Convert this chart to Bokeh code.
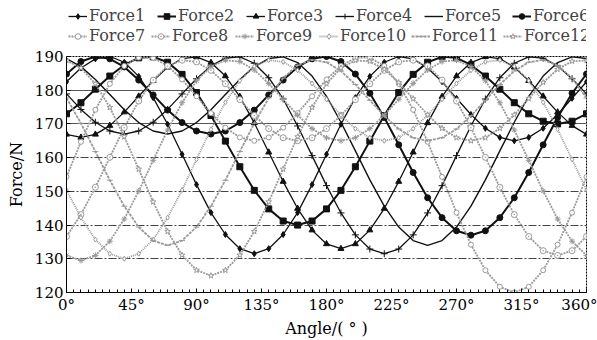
from bokeh.plotting import figure
from bokeh.models import FixedTicker, Legend, LegendItem, Grid
from bokeh.layouts import column
from bokeh.embed import file_html
from bokeh.resources import INLINE

angles = list(range(0, 361, 10))

force1 = [182.5, 186.6, 189.3, 190.0, 188.3, 184.1, 177.8, 169.9, 161.0, 152.0, 143.7, 137.2, 133.0, 131.5, 133.0, 137.2, 143.7, 152.0, 161.0, 169.9, 177.8, 184.1, 188.3, 190.0, 189.3, 186.6, 182.5, 177.6, 172.8, 168.7, 166.0, 165.0, 166.0, 168.7, 172.8, 177.6, 182.5]
force2 = [173.0, 176.3, 180.3, 184.2, 187.5, 189.6, 189.9, 188.3, 184.7, 179.3, 172.5, 164.9, 157.3, 150.3, 144.8, 141.2, 140.0, 141.2, 144.8, 150.3, 157.3, 164.9, 172.5, 179.3, 184.7, 188.3, 189.9, 189.6, 187.5, 184.2, 180.3, 176.3, 173.0, 170.8, 170.0, 170.8, 173.0]
force3 = [166.9, 166.0, 166.9, 169.5, 173.5, 178.2, 182.8, 186.8, 189.4, 189.9, 188.2, 184.2, 178.1, 170.3, 161.6, 152.9, 144.9, 138.5, 134.4, 133.0, 134.4, 138.5, 144.9, 152.9, 161.6, 170.3, 178.1, 184.2, 188.2, 189.9, 189.4, 186.8, 182.8, 178.2, 173.5, 169.5, 166.9]
force4 = [178.9, 174.3, 170.5, 167.9, 167.0, 167.9, 170.5, 174.3, 178.9, 183.4, 187.2, 189.5, 189.9, 188.0, 183.7, 177.4, 169.4, 160.6, 151.7, 143.6, 137.1, 132.9, 131.5, 132.9, 137.1, 143.6, 151.7, 160.6, 169.4, 177.4, 183.7, 188.0, 189.9, 189.5, 187.2, 183.4, 178.9]
force5 = [189.4, 187.0, 183.2, 178.7, 174.2, 170.4, 167.9, 167.0, 167.9, 170.4, 174.2, 178.7, 183.2, 187.0, 189.4, 189.9, 188.2, 184.2, 178.2, 170.5, 162.0, 153.4, 145.6, 139.4, 135.4, 134.0, 135.4, 139.4, 145.6, 153.4, 162.0, 170.5, 178.2, 184.2, 188.2, 189.9, 189.4]
force6 = [184.8, 188.5, 190.0, 189.3, 186.9, 183.0, 178.6, 174.1, 170.4, 167.9, 167.0, 167.9, 170.4, 174.1, 178.6, 183.0, 186.9, 189.3, 190.0, 188.5, 184.8, 179.1, 171.9, 163.8, 155.6, 148.1, 142.2, 138.3, 137.0, 138.3, 142.2, 148.1, 155.6, 163.8, 171.9, 179.1, 184.8]
force7 = [154.3, 164.7, 174.2, 181.9, 187.2, 189.7, 189.6, 187.2, 183.2, 178.2, 173.2, 168.9, 166.0, 165.0, 166.0, 168.9, 173.2, 178.2, 183.2, 187.2, 189.6, 189.7, 187.2, 181.9, 174.2, 164.7, 154.3, 143.7, 134.2, 126.6, 121.7, 120.0, 121.7, 126.6, 134.2, 143.7, 154.3]
force8 = [136.6, 143.1, 151.2, 160.1, 168.9, 176.8, 183.0, 187.2, 188.9, 188.4, 185.9, 181.9, 177.2, 172.5, 168.6, 165.9, 165.0, 165.9, 168.6, 172.5, 177.2, 181.9, 185.9, 188.4, 188.9, 187.2, 183.0, 176.8, 168.9, 160.1, 151.2, 143.1, 136.6, 132.4, 131.0, 132.4, 136.6]
force9 = [131.0, 129.5, 131.0, 135.2, 141.8, 150.1, 159.2, 168.2, 176.3, 182.8, 187.0, 188.9, 188.5, 186.0, 182.0, 177.3, 172.6, 168.6, 165.9, 165.0, 165.9, 168.6, 172.6, 177.3, 182.0, 186.0, 188.5, 188.9, 187.0, 182.8, 176.3, 168.2, 159.2, 150.1, 141.8, 135.2, 131.0]
force10 = [150.4, 142.2, 135.7, 131.5, 130.0, 131.5, 135.7, 142.2, 150.4, 159.5, 168.4, 176.4, 182.8, 187.1, 188.9, 188.4, 185.9, 182.0, 177.3, 172.6, 168.6, 165.9, 165.0, 165.9, 168.6, 172.6, 177.3, 182.0, 185.9, 188.4, 188.9, 187.1, 182.8, 176.4, 168.4, 159.5, 150.4]
force11 = [177.7, 170.2, 161.8, 153.3, 145.6, 139.4, 135.4, 134.0, 135.4, 139.4, 145.6, 153.3, 161.8, 170.2, 177.7, 183.6, 187.4, 189.0, 188.3, 185.7, 181.7, 177.0, 172.4, 168.5, 165.9, 165.0, 165.9, 168.5, 172.4, 177.0, 181.7, 185.7, 188.3, 189.0, 187.4, 183.6, 177.7]
force12 = [188.8, 186.6, 181.9, 174.9, 166.2, 156.6, 146.9, 138.1, 131.1, 126.6, 125.0, 126.6, 131.1, 138.1, 146.9, 156.6, 166.2, 174.9, 181.9, 186.6, 188.8, 188.6, 186.2, 182.3, 177.5, 172.7, 168.7, 165.9, 165.0, 165.9, 168.7, 172.7, 177.5, 182.3, 186.2, 188.6, 188.8]

series_names = ["Force1", "Force2", "Force3", "Force4", "Force5", "Force6",
                "Force7", "Force8", "Force9", "Force10", "Force11", "Force12"]
series_values = [force1, force2, force3, force4, force5, force6,
                 force7, force8, force9, force10, force11, force12]

x_ticks = [0, 45, 90, 135, 180, 225, 270, 315, 360]
x_tick_labels = ["0°", "45°", "90°", "135°", "180°", "225°", "270°", "315°", "360°"]
y_ticks = [120, 130, 140, 150, 160, 170, 180, 190]

BLACK = "#111111"
GRAY = "#9a9a9a"
styles = [
    dict(color=BLACK, lw=1.3, dash="solid", marker="diamond", size=6, fill=BLACK),
    dict(color=BLACK, lw=2.0, dash="solid", marker="square", size=6, fill=BLACK),
    dict(color=BLACK, lw=1.3, dash="solid", marker="triangle", size=6, fill=BLACK),
    dict(color=BLACK, lw=1.3, dash="solid", marker="cross", size=7, fill=BLACK),
    dict(color=BLACK, lw=1.4, dash="solid", marker=None, size=0, fill=BLACK),
    dict(color=BLACK, lw=2.0, dash="solid", marker="circle", size=6, fill=BLACK),
    dict(color=GRAY, lw=1.8, dash="2 1", marker="circle", size=5, fill="white"),
    dict(color=GRAY, lw=1.8, dash="2 1", marker="circle_dot", size=6, fill="white"),
    dict(color=GRAY, lw=1.8, dash="2 1", marker="asterisk", size=6, fill=GRAY),
    dict(color=GRAY, lw=1.8, dash="1 1", marker="diamond", size=5, fill="white"),
    dict(color=GRAY, lw=1.8, dash="3 1", marker="dash", size=6, fill=GRAY),
    dict(color=GRAY, lw=1.8, dash="2 1", marker="star", size=6, fill="white"),
]

# legend entry anchors (screen px): glyph left edge per entry, two rows
legend_x = [67, 156, 245, 334, 423, 511, 67, 150, 234, 318, 410, 502]
legend_row_bottom = [23, 23, 23, 23, 23, 23, 3, 3, 3, 3, 3, 3]
LEGEND_X_SHIFT = -65

FONT = "DejaVu Serif"


def draw_series(fig):
    out = []
    for name, vals, st in zip(series_names, series_values, styles):
        r_line = fig.line(angles, vals, line_color=st["color"], line_width=st["lw"],
                          line_dash=st["dash"])
        rends = [r_line]
        if st["marker"]:
            r_m = fig.scatter(angles, vals, marker=st["marker"], size=st["size"],
                              line_color=st["color"], fill_color=st["fill"], line_width=1)
            rends.append(r_m)
        out.append(LegendItem(label=name, renderers=rends))
    return out


# ---- main chart ----
p = figure(width=597, height=292, x_range=(0, 360), y_range=(120, 190),
           output_backend="svg", toolbar_location=None,
           min_border_left=66, min_border_right=11, min_border_top=8, min_border_bottom=44)

p.xgrid.visible = False
p.ygrid.ticker = FixedTicker(ticks=[170, 180])
p.ygrid.grid_line_color = "#555555"
p.ygrid.grid_line_width = 1
g2 = Grid(dimension=1, ticker=FixedTicker(ticks=[130, 140, 150, 160]),
          grid_line_color="#444444", grid_line_dash="8 2 2 2", grid_line_width=1)
p.add_layout(g2)

p.outline_line_color = "black"
p.outline_line_dash = "2 1"
p.outline_line_width = 1

draw_series(p)

p.xaxis.ticker = FixedTicker(ticks=x_ticks, minor_ticks=list(range(0, 361, 5)))
p.xaxis.major_label_overrides = {t: l for t, l in zip(x_ticks, x_tick_labels)}
p.yaxis.ticker = FixedTicker(ticks=y_ticks)

for ax in (p.xaxis[0], p.yaxis[0]):
    ax.major_label_text_font = FONT
    ax.major_label_text_font_size = "15px"
    ax.major_label_text_color = "black"
    ax.axis_label_text_font = FONT
    ax.axis_label_text_font_size = "16px"
    ax.axis_label_text_font_style = "normal"
    ax.axis_label_text_color = "black"
    ax.axis_line_color = "black"
    ax.major_tick_in = 4
    ax.major_tick_out = 0
    ax.minor_tick_in = 3
    ax.minor_tick_out = 0
    ax.major_tick_line_color = "black"
    ax.minor_tick_line_color = "black"

p.yaxis.minor_tick_line_color = None
p.xaxis.axis_label = "Angle/( ° )"
p.yaxis.axis_label = "Force/N"
p.xaxis.major_label_standoff = 3
p.xaxis.axis_label_standoff = 2
p.yaxis.major_label_standoff = 3
p.yaxis.axis_label_standoff = 6

# ---- legend strip (series drawn outside its visible range, only the legend shows) ----
lf = figure(width=597, height=48, x_range=(0, 1), y_range=(0, 1),
            output_backend="svg", toolbar_location=None, min_border=0,
            x_axis_location=None, y_axis_location=None)
lf.grid.visible = False
lf.outline_line_color = None
legend_items = draw_series(lf)

for item, lx, ly in zip(legend_items, legend_x, legend_row_bottom):
    lf.add_layout(Legend(items=[item], orientation="horizontal",
                         location=(lx + LEGEND_X_SHIFT, ly),
                         label_text_font=FONT, label_text_font_size="16px",
                         glyph_width=19, glyph_height=14, label_standoff=2,
                         spacing=0, padding=0, margin=0, label_height=16,
                         border_line_color=None, background_fill_alpha=0), "center")

layout = column(lf, p, spacing=0)
open("out.html", "w").write(file_html(layout, INLINE))
